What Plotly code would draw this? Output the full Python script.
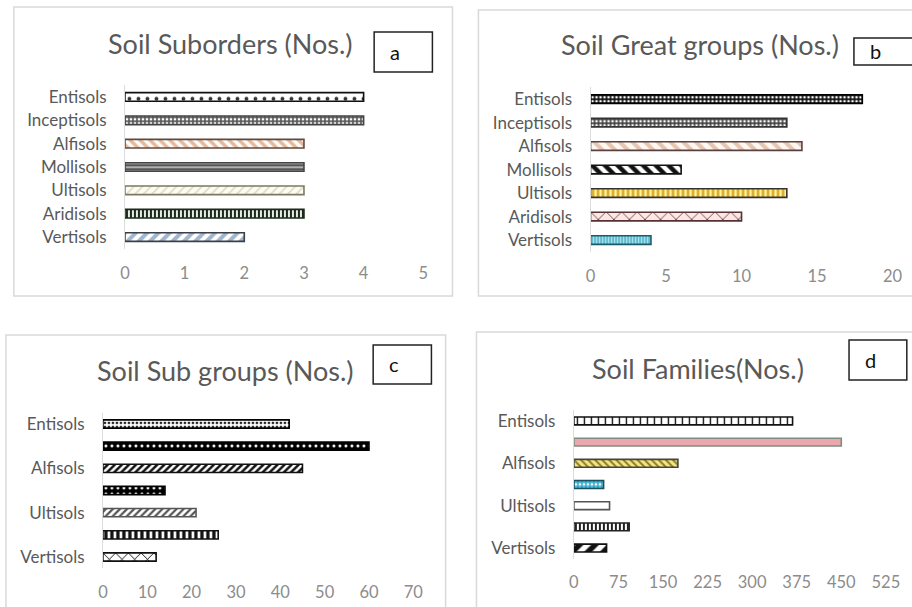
import plotly.graph_objects as go

# Soil orders shown on every panel (top to bottom)
soil_orders = ["Entisols", "Inceptisols", "Alfisols", "Mollisols", "Ultisols", "Aridisols", "Vertisols"]

# Counts per soil order
suborders = [4, 4, 3, 3, 3, 3, 2]
great_groups = [18, 13, 14, 6, 13, 10, 4]
sub_groups = [42, 60, 45, 14, 21, 26, 12]
families = [368, 450, 175, 50, 60, 93, 55]

W, H = 912, 607
FONT = "Lato, Calibri, Carlito, sans-serif"


def px(x):
    return x / W


def py(y):
    return 1 - y / H


# Per-bar fill styles: (pattern shape, background, foreground, pattern size, solidity, border)
styles_a = [
    (".", "#ffffff", "#333333", 9, 0.14, "#111111"),
    (".", "#5a5a5a", "#ffffff", 4, 0.35, "#444444"),
    ("\\", "#ffffff", "#e8b898", 7, 0.5, "#5e4a40"),
    ("-", "#555555", "#f0f0f0", 4, 0.3, "#444444"),
    ("/", "#fdfcf4", "#e2dcc0", 6, 0.3, "#7a7a62"),
    ("|", "#ffffff", "#1a2a1a", 4, 0.55, "#1a2a1a"),
    ("/", "#ffffff", "#9fb6cc", 8, 0.5, "#3a3f4a"),
]
styles_b = [
    (".", "#111111", "#ffffff", 4, 0.35, "#000000"),
    (".", "#444444", "#ffffff", 4, 0.35, "#333333"),
    ("\\", "#fff8f2", "#e6c6b0", 9, 0.45, "#5a4040"),
    ("\\", "#ffffff", "#111111", 9, 0.5, "#111111"),
    ("|", "#fff4a0", "#d9a520", 5, 0.5, "#333333"),
    ("x", "#fde8e8", "#6a3a3a", 11, 0.15, "#553333"),
    ("|", "#bfeef5", "#2aa0b8", 3, 0.45, "#1a5a6a"),
]
styles_c = [
    (".", "#ffffff", "#222222", 4, 0.35, "#000000"),
    (".", "#000000", "#ffffff", 6, 0.2, "#000000"),
    ("/", "#ffffff", "#111111", 5, 0.5, "#111111"),
    (".", "#000000", "#ffffff", 6, 0.2, "#000000"),
    ("/", "#ffffff", "#555555", 5, 0.45, "#555555"),
    ("|", "#ffffff", "#111111", 6, 0.55, "#111111"),
    ("x", "#ffffff", "#111111", 9, 0.2, "#111111"),
]
styles_d = [
    ("|", "#ffffff", "#111111", 7, 0.2, "#111111"),
    ("", "#eba6ae", "#eba6ae", 8, 0.3, "#7e8e80"),
    ("\\", "#f5e77a", "#8a7a30", 5, 0.4, "#444444"),
    (".", "#3aaed0", "#ffffff", 4, 0.35, "#1a5060"),
    ("", "#ffffff", "#ffffff", 8, 0.3, "#555555"),
    ("|", "#ffffff", "#222222", 4, 0.5, "#222222"),
    ("/", "#ffffff", "#111111", 11, 0.5, "#111111"),
]

# Panel geometry in pixels: frame, plot area, title centre, tag box
panels = [
    dict(name="a", title="Soil Suborders (Nos.)", values=suborders, rng=[0, 5], dtick=1,
         frame=(9, 7, 457, 296), xdom=(122.5, 427.2), ydom=(85.3, 248.7),
         title_xy=(230, 43), tag=(377, 32, 436.5, 72), ticks_y=soil_orders, styles=styles_a),
    dict(name="b", title="Soil Great groups (Nos.)", values=great_groups, rng=[0, 20], dtick=5,
         frame=(483.5, 10, 935, 296), xdom=(598, 906.4), ydom=(87.3, 251.8),
         title_xy=(710, 45), tag=(867, 38, 935, 65), ticks_y=soil_orders, styles=styles_b),
    dict(name="c", title="Soil Sub groups (Nos.)", values=sub_groups, rng=[0, 70], dtick=10,
         frame=(1, 335, 450, 620), xdom=(100, 417), ydom=(412.9, 568.1),
         title_xy=(225, 370), tag=(376, 345, 435.5, 384),
         ticks_y=["Entisols", "Alfisols", "Ultisols", "Vertisols"], styles=styles_c),
    dict(name="d", title="Soil Families(Nos.)", values=families, rng=[0, 525], dtick=75,
         frame=(481.5, 332, 935, 620), xdom=(581, 899.6), ydom=(410.4, 558.6),
         title_xy=(707.5, 368), tag=(862, 340, 921, 380),
         ticks_y=["Entisols", "Alfisols", "Ultisols", "Vertisols"], styles=styles_d),
]

fig = go.Figure()
shapes = []
annotations = []
label_font = dict(family=FONT, size=17, color="#595959")
tick_font = dict(family=FONT, size=16.5, color="#8c8c8c")

for i, p in enumerate(panels):
    suffix = "" if i == 0 else str(i + 1)
    xa, ya = "x" + suffix, "y" + suffix
    for order, value, (shape, bg, fg, size, sol, edge) in zip(soil_orders, p["values"], p["styles"]):
        fig.add_trace(go.Bar(
            x=[value], y=[order], orientation="h", width=0.37,
            xaxis=xa, yaxis=ya, showlegend=False, name=order,
            marker=dict(
                color=bg,
                line=dict(color=edge, width=1.6),
                pattern=dict(shape=shape, fgcolor=fg, bgcolor=bg, size=size,
                             solidity=sol, fillmode="replace"),
            ),
        ))
    x0, x1 = p["xdom"]
    y0, y1 = p["ydom"]
    fig.layout["xaxis" + suffix] = dict(
        domain=[px(x0), px(x1)], anchor=ya, range=p["rng"], dtick=p["dtick"], tick0=0,
        showgrid=False, zeroline=False, showline=False,
        ticks="outside", ticklen=9, tickcolor="rgba(0,0,0,0)",
        tickfont=tick_font, fixedrange=True,
    )
    fig.layout["yaxis" + suffix] = dict(
        domain=[py(y1), py(y0)], anchor=xa, type="category",
        categoryorder="array", categoryarray=soil_orders[::-1],
        range=[-0.5, 6.5], tickvals=p["ticks_y"],
        showgrid=False, zeroline=False, showline=True, linecolor="#dcdcdc", linewidth=1,
        ticks="outside", ticklen=14, tickcolor="rgba(0,0,0,0)",
        tickfont=label_font, fixedrange=True,
    )
    # Panel frame
    fx0, fy0, fx1, fy1 = p["frame"]
    shapes.append(dict(type="rect", xref="paper", yref="paper",
                       x0=px(fx0), x1=px(fx1), y0=py(fy1), y1=py(fy0),
                       line=dict(color="#d9d9d9", width=1.5), layer="below"))
    # Title
    tx, ty = p["title_xy"]
    annotations.append(dict(text=p["title"], x=px(tx), y=py(ty), xref="paper", yref="paper",
                            showarrow=False, xanchor="center", yanchor="middle",
                            font=dict(family=FONT, size=27, color="#595959")))
    # Panel tag box
    bx0, by0, bx1, by1 = p["tag"]
    shapes.append(dict(type="rect", xref="paper", yref="paper",
                       x0=px(bx0), x1=px(bx1), y0=py(by1), y1=py(by0),
                       line=dict(color="#222222", width=1.5), fillcolor="white"))
    annotations.append(dict(text=p["name"], x=px(bx0 + 14), y=py((by0 + by1) / 2),
                            xref="paper", yref="paper", showarrow=False,
                            xanchor="left", yanchor="middle",
                            font=dict(family=FONT, size=20, color="#111111")))

fig.update_layout(
    width=W, height=H, autosize=False, margin=dict(l=0, r=0, t=0, b=0),
    paper_bgcolor="white", plot_bgcolor="white", barmode="overlay",
    shapes=shapes, annotations=annotations,
)

fig.write_html("out.html", config={"responsive": False, "displayModeBar": False})
